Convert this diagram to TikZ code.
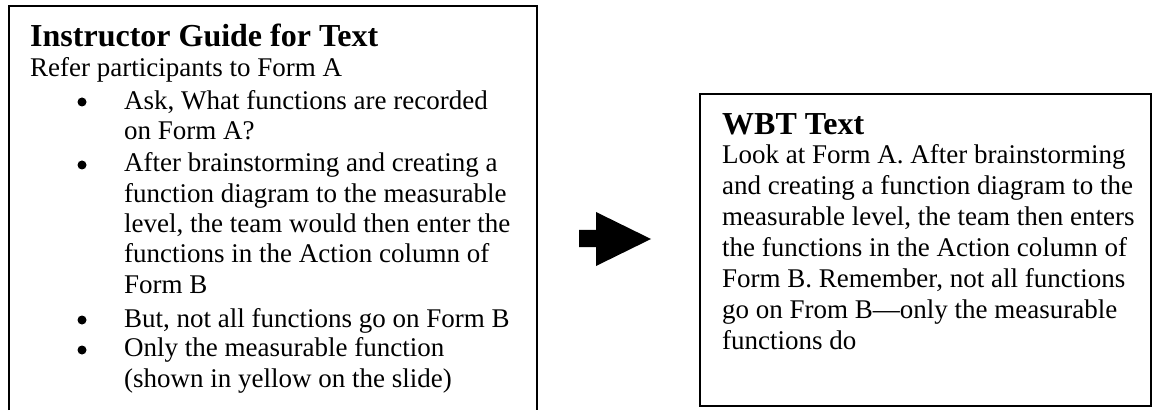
\documentclass[tikz,border=0pt]{standalone}
\usepackage{fontspec}
\setmainfont{Liberation Serif}
\begin{document}
\begin{tikzpicture}[x=1pt, y=1pt,
	frame/.style={line width=1.5pt},
	head/.style={anchor=base west, inner sep=0pt, font=\fontsize{32}{38}\selectfont\bfseries},
	txt/.style={anchor=base west, inner sep=0pt, align=left, font=\fontsize{27}{30.3}\selectfont},
	wbt/.style={txt, font=\fontsize{27}{30.9}\selectfont},
	dot/.style={circle, fill, inner sep=0pt, minimum size=9pt}]
	
	\useasboundingbox (0,0) rectangle (1153,410);
	
	% left box, open at the bottom
	\draw[frame] (8.75,0) -- (8.75,404) -- (537,404) -- (537,0);
	
	\node[head] (guide) at (30,363) {Instructor Guide for Text};
	\node[txt] (refer) at (30,333) {Refer participants to Form A};
	
	% bullets (nodes sit on the baseline of their last line)
	\node[dot] (b1) at (82,308) {};
	\node[txt] (ask) at (124,270) {Ask, What functions are recorded\\on Form A?};
	\node[dot] (b2) at (82,245) {};
	\node[txt] (after) at (124,117) {After brainstorming and creating a\\function diagram to the measurable\\level, the team would then enter the\\functions in the Action column of\\Form B};
	\node[dot] (b3) at (82,90) {};
	\node[txt] (but) at (124,83) {But, not all functions go on Form B};
	\node[dot] (b4) at (82,60) {};
	\node[txt] (only) at (124,23) {Only the measurable function\\(shown in yellow on the slide)};
	
	% block arrow
	\fill (579,180) -- (596,180) -- (596,198) -- (651,171) -- (596,144) -- (596,163) -- (579,163) -- cycle;
	
	% right box
	\draw[frame] (700,4) rectangle (1151,316);
	
	\node[head] (wbthead) at (722,275) {WBT Text};
	\node[wbt] (look) at (722,61) {Look at Form A. After brainstorming\\and creating a function diagram to the\\measurable level, the team then enters\\the functions in the Action column of\\Form B. Remember, not all functions\\go on From B---only the measurable\\functions do};
	
\end{tikzpicture}
\end{document}
